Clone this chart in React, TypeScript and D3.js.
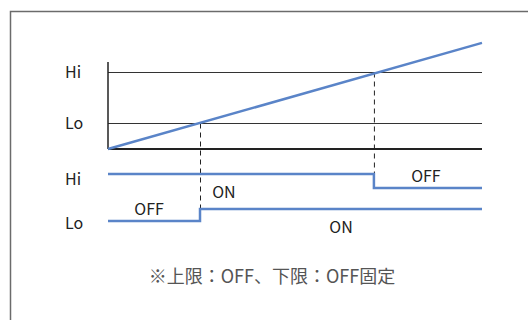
import * as d3 from "d3";

const W = 528;
const H = 320;

// time axis 0..10, input value (Lo = 1, Hi = 3)
const rampT = [0, 10];
const rampV = [0, 4.16];
const thresholds = [
  { name: "Hi", value: 3 },
  { name: "Lo", value: 1 },
];
// crossing times
const crossLo = 2.46;
const crossHi = 7.11;

// output traces: [t, level] step points (level 1 = ON (high), 0 = OFF)
const hiOut = [
  [0, 1],
  [crossHi, 1],
  [crossHi, 0],
  [10, 0],
];
const loOut = [
  [0, 0],
  [crossLo, 0],
  [crossLo, 1],
  [10, 1],
];
const stateLabels = [
  { text: "ON", t: 3.1, row: "hi", below: true },
  { text: "OFF", t: 8.5, row: "hi", below: false },
  { text: "OFF", t: 1.1, row: "lo", below: false },
  { text: "ON", t: 6.23, row: "lo", below: true },
];
const note = "※上限：OFF、下限：OFF固定";

const BLUE = "#5a84c8";
const FONT = "'Noto Sans CJK JP', 'Noto Sans', sans-serif";

export default function App() {
  const x = d3.scaleLinear().domain([0, 10]).range([108, 482]);
  const y = d3.scaleLinear().domain([0, 3]).range([149, 72.5]);
  // output rows: level 0/1 mapped per row
  const yHiRow = d3.scaleLinear().domain([0, 1]).range([188, 174]);
  const yLoRow = d3.scaleLinear().domain([0, 1]).range([221, 209]);

  const ramp = d3
    .line<number>()
    .x((_, i) => x(rampT[i]))
    .y((v) => y(v))(rampV);
  const hiPath = d3
    .line<number[]>()
    .x((d) => x(d[0]))
    .y((d) => yHiRow(d[1]))(hiOut);
  const loPath = d3
    .line<number[]>()
    .x((d) => x(d[0]))
    .y((d) => yLoRow(d[1]))(loOut);

  return (
    <svg
      width={W}
      height={H}
      style={{ position: "absolute", left: 0, top: 0, display: "block", background: "#fff" }}
      fontFamily={FONT}
    >
      {/* frame */}
      <path d={`M10.5,${H} V11.5 H${W}`} fill="none" stroke="#6b6b6b" strokeWidth={1.5} />

      {/* threshold lines */}
      {thresholds.map((th) => (
        <g key={th.name}>
          <line x1={x(0)} x2={x(10)} y1={y(th.value)} y2={y(th.value)} stroke="#333" strokeWidth={1} />
          <text x={65} y={y(th.value)} dy="0.36em" fontSize={16} fill="#222">
            {th.name}
          </text>
        </g>
      ))}
      {/* axes */}
      <line x1={x(0)} x2={x(0)} y1={62} y2={y(0)} stroke="#222" strokeWidth={1.5} />
      <line x1={x(0)} x2={x(10)} y1={y(0)} y2={y(0)} stroke="#222" strokeWidth={2} />

      {/* dashed drop lines */}
      <line x1={x(crossLo) + 0.5} x2={x(crossLo) + 0.5} y1={y(1)} y2={yLoRow(1)} stroke="#222" strokeWidth={1} strokeDasharray="5,4" />
      <line x1={x(crossHi) + 0.5} x2={x(crossHi) + 0.5} y1={y(3)} y2={yHiRow(1)} stroke="#222" strokeWidth={1} strokeDasharray="5,4" />

      <path d={ramp ?? ""} fill="none" stroke={BLUE} strokeWidth={2.5} />
      <path d={hiPath ?? ""} fill="none" stroke={BLUE} strokeWidth={2.5} />
      <path d={loPath ?? ""} fill="none" stroke={BLUE} strokeWidth={2.5} />

      {/* output row labels */}
      <text x={65} y={179} dy="0.36em" fontSize={16} fill="#222">Hi</text>
      <text x={65} y={223} dy="0.36em" fontSize={16} fill="#222">Lo</text>

      {stateLabels.map((s, i) => {
        const row = s.row === "hi" ? yHiRow : yLoRow;
        const yy = s.below ? row(1) + 18 : row(0) - 12;
        return (
          <text key={i} x={x(s.t)} y={yy} dy="0.36em" textAnchor="middle" fontSize={16} fill="#222">
            {s.text}
          </text>
        );
      })}

      <text x={272} y={277} dy="0.36em" textAnchor="middle" fontSize={18} fill="#555">
        {note}
      </text>
    </svg>
  );
}
